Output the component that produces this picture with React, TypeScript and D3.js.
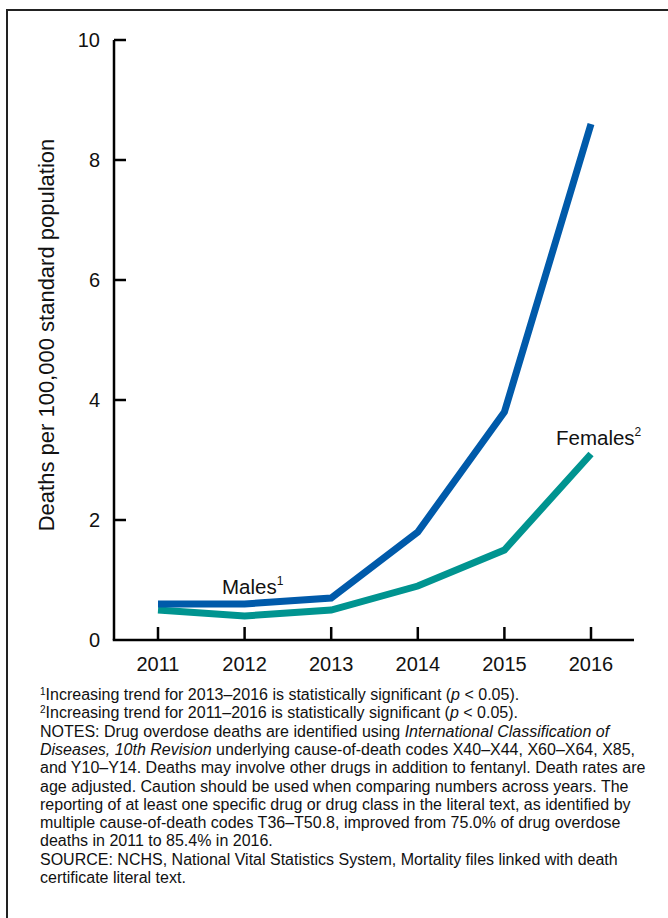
import React from "react";
import * as d3 from "d3";

const years = [2011, 2012, 2013, 2014, 2015, 2016];
const males = [0.6, 0.6, 0.7, 1.8, 3.8, 8.6];
const females = [0.5, 0.4, 0.5, 0.9, 1.5, 3.1];
const yTicks = [0, 2, 4, 6, 8, 10];
const yLabel = "Deaths per 100,000 standard population";

type Seg = { t: string; i?: boolean; sup?: boolean };
const noteLines: Seg[][] = [
  [{ t: "1", sup: true }, { t: "Increasing trend for 2013–2016 is statistically significant (" }, { t: "p", i: true }, { t: " < 0.05)." }],
  [{ t: "2", sup: true }, { t: "Increasing trend for 2011–2016 is statistically significant (" }, { t: "p", i: true }, { t: " < 0.05)." }],
  [{ t: "NOTES: Drug overdose deaths are identified using " }, { t: "International Classification of", i: true }],
  [{ t: "Diseases, 10th Revision", i: true }, { t: " underlying cause-of-death codes X40–X44, X60–X64, X85," }],
  [{ t: "and Y10–Y14. Deaths may involve other drugs in addition to fentanyl. Death rates are" }],
  [{ t: "age adjusted. Caution should be used when comparing numbers across years. The" }],
  [{ t: "reporting of at least one specific drug or drug class in the literal text, as identified by" }],
  [{ t: "multiple cause-of-death codes T36–T50.8, improved from 75.0% of drug overdose" }],
  [{ t: "deaths in 2011 to 85.4% in 2016." }],
  [{ t: "SOURCE: NCHS, National Vital Statistics System, Mortality files linked with death" }],
  [{ t: "certificate literal text." }],
];

export default function App() {
  const W = 668, H = 918;
  const x = d3.scaleLinear().domain([2011, 2016]).range([158, 591]);
  const y = d3.scaleLinear().domain([0, 10]).range([640, 40]);
  const line = d3.line<number>().x((_, i) => x(years[i])).y((d) => y(d));
  const font = "'Liberation Sans', Arial, sans-serif";
  const axisX0 = 114, axisX1 = 634;
  return (
    <svg width={W} height={H} style={{ position: "absolute", left: 0, top: 0, background: "#fff" }} fontFamily={font}>
      <rect x={7} y={10} width={720} height={960} fill="none" stroke="#222" strokeWidth={2} />
      {/* axes */}
      <line x1={axisX0} x2={axisX0} y1={y(10)} y2={y(0)} stroke="#000" strokeWidth={2.5} />
      <line x1={axisX0 - 1.25} x2={axisX1} y1={y(0)} y2={y(0)} stroke="#000" strokeWidth={2.5} />
      {yTicks.map((t) => (
        <g key={t}>
          {t > 0 && <line x1={axisX0} x2={axisX0 + 12} y1={y(t)} y2={y(t)} stroke="#000" strokeWidth={2.5} />}
          <text x={100} y={y(t)} dy="0.36em" textAnchor="end" fontSize={20} fill="#111">{t}</text>
        </g>
      ))}
      {years.map((yr) => (
        <g key={yr}>
          <line x1={x(yr)} x2={x(yr)} y1={y(0)} y2={y(0) - 13} stroke="#000" strokeWidth={2.5} />
          <text x={x(yr)} y={671} textAnchor="middle" fontSize={20} fill="#111">{yr}</text>
        </g>
      ))}
      <text transform={`translate(54,${(y(10) + y(0)) / 2 - 5}) rotate(-90)`} textAnchor="middle" fontSize={22} fill="#111">{yLabel}</text>
      <path d={line(females) || ""} fill="none" stroke="#009490" strokeWidth={7} strokeLinejoin="miter" />
      <path d={line(males) || ""} fill="none" stroke="#005AAA" strokeWidth={7} strokeLinejoin="miter" />
      <text x={222} y={594} fontSize={20.5} fill="#111">Males<tspan fontSize={12} dy={-9}>1</tspan></text>
      <text x={556} y={445} fontSize={20.5} fill="#111">Females<tspan fontSize={12} dy={-9}>2</tspan></text>
      {noteLines.map((segs, li) => (
        <text key={li} x={40} y={700 + li * 18.3} fontSize={16} fill="#111">
          {segs.map((s, si) =>
            s.sup ? (
              <tspan key={si} fontSize={10} baselineShift="super">{s.t}</tspan>
            ) : (
              <tspan key={si} fontStyle={s.i ? "italic" : "normal"}>{s.t}</tspan>
            )
          )}
        </text>
      ))}
    </svg>
  );
}
